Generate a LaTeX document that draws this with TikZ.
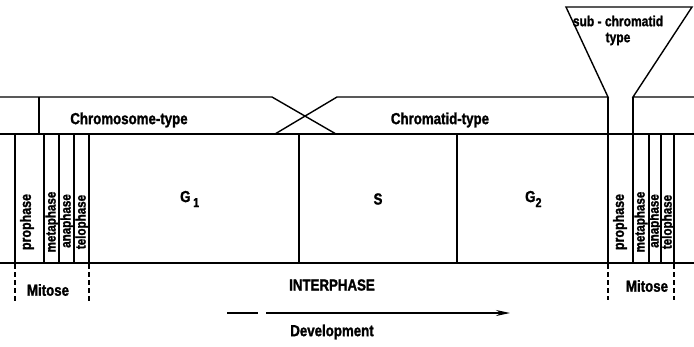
\documentclass[tikz,border=0pt]{standalone}
\usepackage{fontspec}
\newfontfamily\cond[FakeStretch=0.83,FakeBold=1.5]{Liberation Sans}
\usetikzlibrary{arrows.meta}
\newcommand{\lowsub}[1]{\raisebox{-5pt}{\fontsize{13}{13}\selectfont #1}}
\begin{document}
\begin{tikzpicture}[x=1pt,y=-1pt,
  ln/.style={line width=1.4pt},
  thin/.style={line width=1.2pt},
  dsh/.style={line width=1.2pt,dash pattern=on 5pt off 3pt},
  lbl/.style={font=\cond\bfseries\fontsize{16}{16}\selectfont,inner sep=0pt},
  slbl/.style={font=\cond\bfseries\fontsize{14.5}{14.5}\selectfont,inner sep=0pt},
  vlbl/.style={font=\cond\bfseries\fontsize{15}{15}\selectfont,inner sep=0pt,rotate=90},
  svlbl/.style={font=\cond\bfseries\fontsize{14}{14}\selectfont,inner sep=0pt,rotate=90}]
\useasboundingbox (0,0) rectangle (694,346);
% coordinates
\coordinate (tl) at (0,97);
\coordinate (xa) at (272,97);
\coordinate (xb) at (336,134);
\coordinate (xc) at (275,134);
\coordinate (xd) at (337,97);
\coordinate (fl) at (608,97);
\coordinate (fr) at (633,97);
\coordinate (ftl) at (566,7);
\coordinate (ftr) at (692,7);
\coordinate (tr) at (694,97);
% band lines
\draw[ln] (tl) -- (xa) -- (xb);
\draw[ln] (xc) -- (xd) -- (fl) -- (ftl) -- (ftr) -- (fr) -- (tr);
\draw[ln] (39,97) -- (39,134);
\draw[ln] (0,134) -- (694,134);
\draw[ln] (0,263) -- (694,263);
% verticals
\draw[ln] (fl) -- (608,263);
\draw[ln] (fr) -- (633,263);
\foreach \x in {15,44,59,74,89,649,661,674,299,457}
  \draw[thin] (\x,134) -- (\x,263);
% dashed
\foreach \x/\y in {15/302,89/302,608/300,674/300}
  \draw[dsh] (\x,264) -- (\x,\y);
% arrow
\coordinate (a0) at (227,313);
\coordinate (a1) at (258,313);
\coordinate (a2) at (266,313);
\coordinate (a3) at (510,313);
\draw[thin] (a0) -- (a1);
\draw[thin,-{Stealth[length=14pt,width=6pt]}] (a2) -- (a3);
% labels
\node[lbl] (chs) at (129,120) {Chromosome-type};
\node[lbl] (cht) at (440,120) {Chromatid-type};
\node[slbl] (sub) at (618,21) {sub - chromatid};
\node[slbl] (typ) at (618,39) {type};
\node[lbl,anchor=west] (g1) at (180,199) {G\,\lowsub{1}};
\node[lbl] (s) at (378,199) {S};
\node[lbl,anchor=west] (g2) at (525,199) {G\lowsub{2}};
\node[lbl] (int) at (332,285) {INTERPHASE};
\node[lbl] (dev) at (332,332) {Development};
\node[lbl] (m1) at (48,290) {Mitose};
\node[lbl] (m2) at (647,286) {Mitose};
% rotated phase labels left
\node[vlbl] (p1) at (27,222) {prophase};
\node[svlbl] (me1) at (52,222) {metaphase};
\node[svlbl] (an1) at (67,221) {anaphase};
\node[svlbl] (te1) at (82,222) {telophase};
% right
\node[vlbl] (p2) at (620,222) {prophase};
\node[svlbl] (me2) at (641,222) {metaphase};
\node[svlbl] (an2) at (655,221) {anaphase};
\node[svlbl] (te2) at (668,222) {telophase};
\end{tikzpicture}
\end{document}
